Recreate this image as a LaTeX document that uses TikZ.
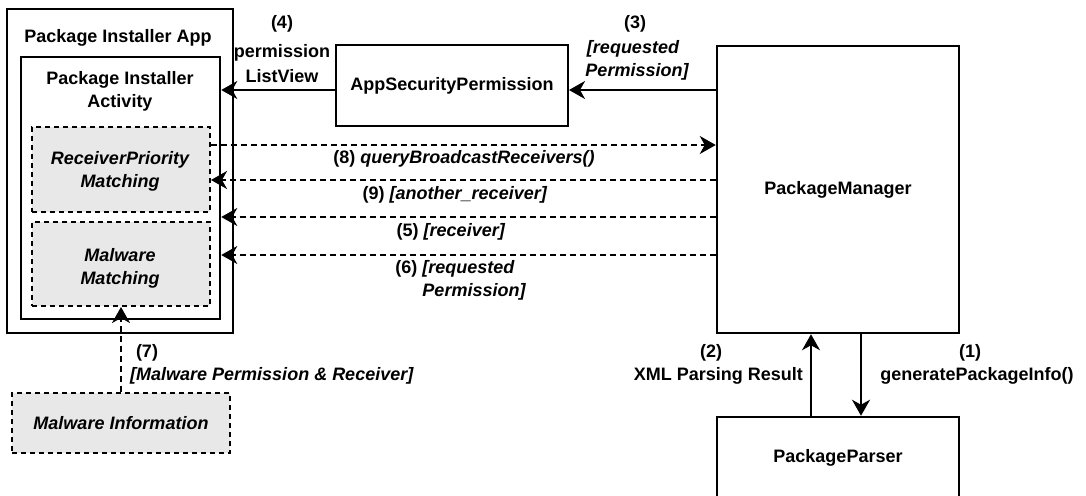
\documentclass[tikz,border=0pt]{standalone}
\usepackage{fontspec}
\setmainfont{Liberation Sans}
\usetikzlibrary{arrows.meta}
\definecolor{boxgray}{HTML}{E8E8E8}
\begin{document}
\begin{tikzpicture}[x=1pt,y=-1pt,
  box/.style={draw, line width=2.5pt, rectangle, inner sep=0pt},
  dbox/.style={draw, line width=2pt, dash pattern=on 5pt off 4pt, fill=boxgray, rectangle, inner sep=0pt},
  lbl/.style={font=\fontsize{18}{23}\selectfont\bfseries, anchor=base, inner sep=0pt},
  il/.style={lbl, font=\fontsize{18}{23}\selectfont\bfseries\itshape},
  arr/.style={line width=2pt, -{Stealth[length=16pt,width=18pt,inset=5pt]}},
  darr/.style={arr, dash pattern=on 6pt off 4pt},
]
\clip (0,0) rectangle (1086,495);
\fill[white] (0,0) rectangle (1086,495);
% boxes
\node[box, minimum width=226pt, minimum height=324pt] (app) at (120,171) {};
\node[box, minimum width=199pt, minimum height=262pt] (inner) at (120.5,188) {};
\node[dbox, minimum width=178pt, minimum height=85pt] (rpm) at (121,169.5) {};
\node[dbox, minimum width=178pt, minimum height=84pt] (mm) at (121,264) {};
\node[box, line width=2pt, minimum width=232pt, minimum height=81pt, font=\fontsize{18}{23}\selectfont\bfseries] (asp) at (452,85.5) {AppSecurityPermission};
\node[box, minimum width=242pt, minimum height=287pt, font=\fontsize{18}{23}\selectfont\bfseries] (pm) at (838,189.5) {PackageManager};
\node[box, minimum width=242pt, minimum height=82pt, font=\fontsize{18}{23}\selectfont\bfseries] (pp) at (838,458) {PackageParser};
\node[dbox, minimum width=218pt, minimum height=60pt, font=\fontsize{18}{23}\selectfont\bfseries\itshape] (mi) at (121,423) {Malware Information};
% box texts
\node[lbl] (t1) at (118,43) {Package Installer App};
\node[lbl] (t2a) at (120,84) {Package Installer};
\node[lbl] (t2b) at (120,107) {Activity};
\node[il] (t3a) at (120,164) {ReceiverPriority};
\node[il] (t3b) at (120,187) {Matching};
\node[il] (t4a) at (120,261) {Malware};
\node[il] (t4b) at (120,284) {Matching};
% connectors
\draw[arr] (pm.west |- 0,90) -- (asp.east |- 0,90);
\draw[arr] (asp.west |- 0,90) -- (inner.east |- 0,90);
\draw[darr] (rpm.east |- 0,145) -- (pm.west |- 0,145);
\draw[darr] (pm.west |- 0,180) -- (rpm.east |- 0,180);
\draw[darr] (pm.west |- 0,217) -- (inner.east |- 0,217);
\draw[darr] (pm.west |- 0,255) -- (inner.east |- 0,255);
\draw[darr] (mi.north) -- (mm.south);
\draw[arr] (pm.south -| 861,0) -- (pp.north -| 861,0);
\draw[arr] (pp.north -| 811,0) -- (pm.south -| 811,0);
% labels
\node[lbl] (l4a) at (282,29) {(4)};
\node[lbl] (l4b) at (282,58) {permission};
\node[lbl] (l4c) at (282,82) {ListView};
\node[lbl] (l3a) at (635,29) {(3)};
\node[il] (l3b) at (633,53) {[requested};
\node[il] (l3c) at (637,77) {Permission]};
\node[lbl] (l8) at (464,163) {(8) \textit{queryBroadcastReceivers()}};
\node[lbl] (l9) at (455,199) {(9) \textit{[another\_receiver]}};
\node[lbl] (l5) at (451,236) {(5) \textit{[receiver]}};
\node[lbl] (l6a) at (455,273) {(6) \textit{[requested}};
\node[il] (l6b) at (474,296) {Permission]};
\node[lbl] (l7a) at (147,357) {(7)};
\node[il, anchor=base west] (l7b) at (130,380) {[Malware Permission \& Receiver]};
\node[lbl] (l1a) at (970,357) {(1)};
\node[lbl] (l1b) at (977,380) {generatePackageInfo()};
\node[lbl] (l2a) at (711,357) {(2)};
\node[lbl, anchor=base east] (l2b) at (803,380) {XML Parsing Result};
\end{tikzpicture}
\end{document}
